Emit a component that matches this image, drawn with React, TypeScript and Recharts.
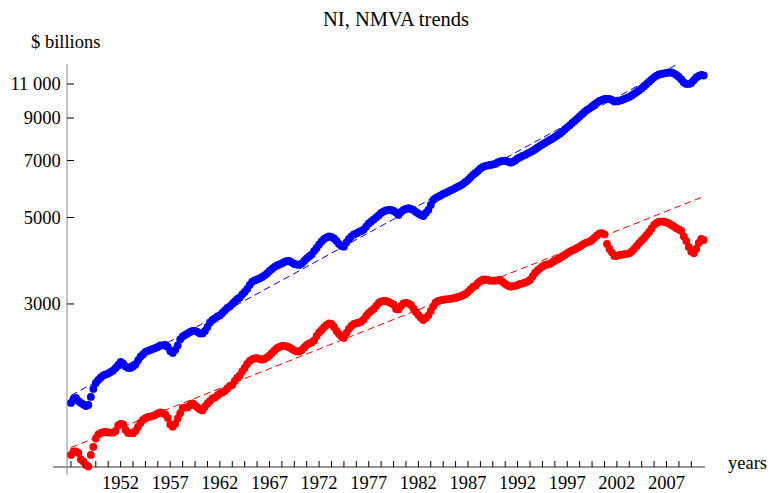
import { LineChart, Line, XAxis, YAxis, ReferenceLine } from "recharts";

const FONT = '"Liberation Serif", "Times New Roman", serif';

const firstYear = 1947;

// NI, $ billions, quarterly 1947Q1 .. 2010Q4
const niValues = [
  1672, 1712, 1722, 1692, // 1947
  1672, 1657, 1642, 1652,
  1732, 1816, 1881, 1915,
  1943, 1967, 1978, 1990, // 1950
  2008, 2025, 2056, 2092,
  2130, 2111, 2074, 2056,
  2056, 2074, 2099, 2149,
  2197, 2226, 2259, 2273,
  2286, 2300, 2313, 2327, // 1955
  2348, 2348, 2355, 2327,
  2273, 2246, 2286, 2348,
  2432, 2476, 2498, 2520,
  2543, 2558, 2558, 2543,
  2520, 2520, 2558, 2619, // 1960
  2689, 2729, 2754, 2786,
  2803, 2845, 2887, 2930,
  2956, 3000, 3045, 3090,
  3117, 3173, 3220, 3278,
  3356, 3416, 3447, 3467, // 1965
  3488, 3519, 3550, 3592,
  3646, 3689, 3733, 3766,
  3788, 3811, 3845, 3868,
  3868, 3834, 3800, 3788,
  3777, 3811, 3868, 3925, // 1970
  3972, 4019, 4103, 4176,
  4264, 4340, 4404, 4444,
  4470, 4457, 4417, 4353,
  4276, 4226, 4209, 4314,
  4404, 4470, 4523, 4550, // 1975
  4590, 4617, 4659, 4742,
  4827, 4884, 4942, 5001,
  5060, 5136, 5181, 5212,
  5227, 5227, 5197, 5151,
  5075, 5166, 5227, 5258, // 1980
  5280, 5258, 5227, 5166,
  5120, 5075, 5045, 5136,
  5227, 5384, 5545, 5611,
  5655, 5695, 5746, 5780,
  5824, 5866, 5907, 5953, // 1985
  5999, 6041, 6095, 6168,
  6241, 6334, 6428, 6504,
  6582, 6680, 6739, 6779,
  6799, 6819, 6839, 6860,
  6921, 6962, 6982, 6995, // 1990
  6962, 6912, 6941, 7003,
  7086, 7137, 7192, 7234,
  7299, 7350, 7407, 7473,
  7553, 7629, 7697, 7765,
  7835, 7904, 7965, 8046, // 1995
  8117, 8204, 8302, 8410,
  8520, 8621, 8739, 8843,
  8964, 9082, 9206, 9326,
  9437, 9532, 9634, 9749,
  9853, 9952, 10011, 10071, // 2000
  10071, 10071, 10011, 9923,
  9923, 9964, 10011, 10071,
  10130, 10190, 10281, 10391,
  10496, 10602, 10715, 10862,
  11004, 11154, 11300, 11448, // 2005
  11557, 11639, 11673, 11708,
  11743, 11777, 11777, 11708,
  11605, 11468, 11300, 11102,
  11004, 11004, 11069, 11247,
  11435, 11536, 11605, 11570, // 2010
];

// NMVA, $ billions, same quarters
const nmvaValues = [
  1230, 1255, 1255, 1244, // 1947
  1197, 1183, 1159, 1149,
  1230, 1289, 1355, 1388,
  1400, 1406, 1408, 1404, // 1950
  1403, 1403, 1417, 1464,
  1477, 1472, 1425, 1400,
  1398, 1398, 1417, 1451,
  1485, 1512, 1527, 1539,
  1542, 1548, 1557, 1571, // 1955
  1582, 1576, 1562, 1530,
  1472, 1453, 1477, 1525,
  1573, 1623, 1628, 1628,
  1652, 1667, 1647, 1628,
  1609, 1599, 1636, 1667, // 1960
  1692, 1717, 1727, 1747,
  1768, 1779, 1794, 1821,
  1848, 1859, 1904, 1938,
  1967, 2014, 2056, 2105,
  2142, 2161, 2174, 2177, // 1965
  2168, 2159, 2168, 2187,
  2213, 2246, 2279, 2309,
  2327, 2341, 2341, 2334,
  2320, 2300, 2279, 2266,
  2266, 2286, 2320, 2355, // 1970
  2376, 2390, 2418, 2483,
  2535, 2573, 2614, 2650,
  2674, 2666, 2619, 2558,
  2513, 2476, 2454, 2528,
  2588, 2634, 2666, 2677, // 1975
  2686, 2705, 2738, 2795,
  2845, 2878, 2913, 2965,
  3018, 3045, 3054, 3054,
  3036, 3012, 2991, 2913,
  2904, 2965, 3009, 3021, // 1980
  3009, 2982, 2921, 2861,
  2811, 2767, 2729, 2762,
  2803, 2878, 2959, 3027,
  3054, 3066, 3077, 3081,
  3086, 3090, 3103, 3108, // 1985
  3127, 3140, 3160, 3183,
  3220, 3268, 3317, 3343,
  3396, 3437, 3461, 3471,
  3457, 3443, 3443, 3443,
  3451, 3457, 3416, 3376, // 1990
  3347, 3323, 3331, 3337,
  3356, 3376, 3386, 3402,
  3427, 3457, 3529, 3603,
  3657, 3704, 3744, 3777,
  3788, 3800, 3838, 3875, // 1995
  3902, 3930, 3972, 4007,
  4048, 4086, 4115, 4144,
  4176, 4209, 4251, 4291,
  4314, 4335, 4378, 4436,
  4496, 4550, 4555, 4523, // 2000
  4276, 4152, 4067, 3984,
  3984, 4007, 4014, 4024,
  4031, 4048, 4091, 4157,
  4226, 4302, 4366, 4431,
  4510, 4590, 4686, 4784, // 2005
  4841, 4878, 4878, 4878,
  4855, 4827, 4784, 4742,
  4692, 4659, 4617, 4470,
  4353, 4201, 4086, 4048,
  4152, 4302, 4404, 4378, // 2010
];

// dashed exponential trends (end points)
const niTrend = [
  { t: 1947, v: 1747 },
  { t: 2008.36, v: 12477 },
];
const nmvaTrend = [
  { t: 1947, v: 1285 },
  { t: 2010.75, v: 5661 },
];

const yTicks = [3000, 5000, 7000, 9000, 11000];
const yearLabels = [1952, 1957, 1962, 1967, 1972, 1977, 1982, 1987, 1992, 1997, 2002, 2007];
// a small tick every 5 quarters
const xTicks = Array.from({ length: 51 }, (_, i) => firstYear + i * 1.25);

const X_DOMAIN: [number, number] = [1946.597, 2010.88];
const Y_DOMAIN: [number, number] = [1145, 12382];

const toSeries = (vals: number[]) => vals.map((v, i) => ({ t: firstYear + i / 4, v }));
const niData = toSeries(niValues);
const nmvaData = toSeries(nmvaValues);

const fmtY = (v: number) =>
  v >= 10000 ? `${Math.floor(v / 1000)} ${String(v % 1000).padStart(3, "0")}` : String(v);

function YTick(props: any) {
  const { x, y, payload } = props;
  return (
    <g>
      <line x1={x} y1={y} x2={x + 7} y2={y} stroke="#000" />
      <text x={x - 6.3} y={y + 6.2} textAnchor="end" fontSize={18.5} fontFamily={FONT} fill="#000">
        {fmtY(payload.value)}
      </text>
    </g>
  );
}

function XTick(props: any) {
  const { x, y, payload } = props;
  const yr = payload.value as number;
  const labeled = yearLabels.some((l) => Math.abs(l - yr) < 0.01);
  return (
    <g>
      <line x1={x} y1={y} x2={x} y2={y - 6} stroke="#000" />
      {labeled && (
        <text x={x} y={y + 22.3} textAnchor="middle" fontSize={18.5} fontFamily={FONT} fill="#000">
          {Math.round(yr)}
        </text>
      )}
    </g>
  );
}

export default function App() {
  return (
    <div
      style={{
        position: "absolute",
        left: 0,
        top: 0,
        width: 778,
        height: 493,
        background: "#fff",
        fontFamily: FONT,
      }}
    >
      <LineChart width={778} height={493} margin={{ top: 64, right: 73, bottom: 0, left: 7 }}>
        <XAxis
          type="number"
          dataKey="t"
          domain={X_DOMAIN}
          allowDataOverflow
          ticks={xTicks}
          interval={0}
          height={26}
          tickSize={0}
          tickMargin={0}
          tickLine={false}
          tick={(p: any) => <XTick {...p} />}
          axisLine={{ stroke: "#333" }}
        />
        <YAxis
          type="number"
          dataKey="v"
          scale="log"
          domain={Y_DOMAIN}
          allowDataOverflow
          ticks={yTicks}
          interval={0}
          width={60}
          tickSize={0}
          tickMargin={0}
          tickLine={false}
          tick={(p: any) => <YTick {...p} />}
          axisLine={{ stroke: "#888" }}
        />
        {/* axis stubs beyond the origin, as in the original */}
        <ReferenceLine
          segment={[
            { x: 1945.19, y: Y_DOMAIN[0] },
            { x: X_DOMAIN[0], y: Y_DOMAIN[0] },
          ]}
          stroke="#333"
          ifOverflow="visible"
        />
        <ReferenceLine
          segment={[
            { x: X_DOMAIN[0], y: Y_DOMAIN[0] },
            { x: X_DOMAIN[0], y: 1092 },
          ]}
          stroke="#888"
          ifOverflow="visible"
        />
        <Line
          data={niTrend}
          dataKey="v"
          stroke="#0000ff"
          strokeWidth={1}
          strokeDasharray="7 4"
          dot={false}
          activeDot={false}
          isAnimationActive={false}
        />
        <Line
          data={nmvaTrend}
          dataKey="v"
          stroke="#ff0000"
          strokeWidth={1}
          strokeDasharray="7 4"
          dot={false}
          activeDot={false}
          isAnimationActive={false}
        />
        <Line
          data={niData}
          dataKey="v"
          stroke="none"
          dot={{ r: 3.9, fill: "#0000ff", stroke: "none", clipDot: false }}
          activeDot={false}
          isAnimationActive={false}
        />
        <Line
          data={nmvaData}
          dataKey="v"
          stroke="none"
          dot={{ r: 3.9, fill: "#ff0000", stroke: "none", clipDot: false }}
          activeDot={false}
          isAnimationActive={false}
        />
      </LineChart>
      <svg
        width={778}
        height={493}
        style={{ position: "absolute", left: 0, top: 0, pointerEvents: "none" }}
      >
        <text x={396} y={26} textAnchor="middle" fontSize={20.5} fontFamily={FONT} fill="#000">
          NI, NMVA trends
        </text>
        <text x={31} y={48} fontSize={18.5} fontFamily={FONT} fill="#000">
          $ billions
        </text>
        <text x={728} y={468.5} fontSize={18.5} fontFamily={FONT} fill="#000">
          years
        </text>
      </svg>
    </div>
  );
}
